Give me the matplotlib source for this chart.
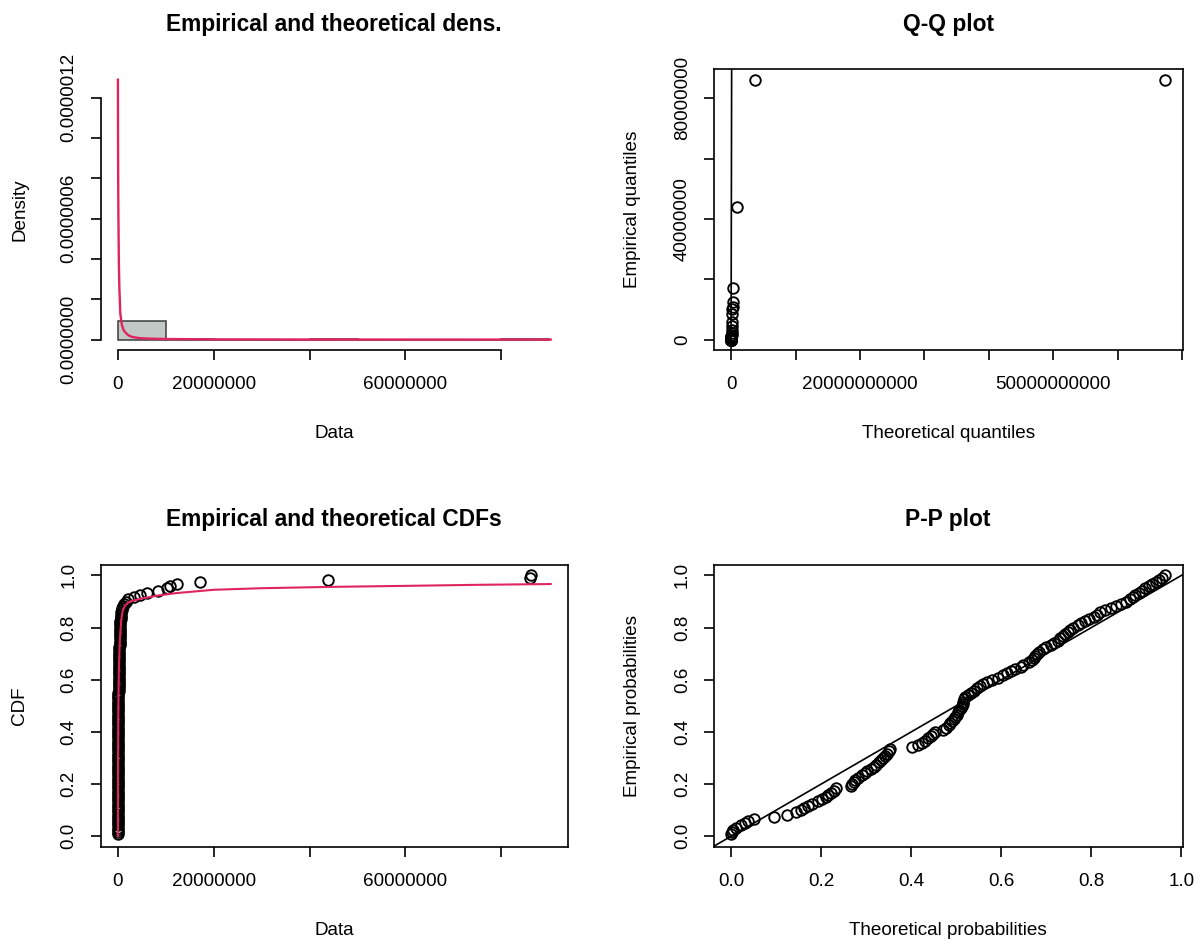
import numpy as np
import matplotlib
matplotlib.use('Agg')
import matplotlib.pyplot as plt

plt.rcParams['font.family'] = ['Liberation Sans', 'DejaVu Sans']

# sorted sample, in millions
data_m = [0.0001, 0.0003, 0.0005, 0.0008, 0.001, 0.0012, 0.0015, 0.002,
          0.004, 0.006, 0.007, 0.008, 0.009, 0.0095, 0.010, 0.012, 0.013, 0.014,
          0.015, 0.016, 0.017, 0.018,
          0.024, 0.025, 0.026, 0.027, 0.028, 0.030, 0.032, 0.033, 0.035, 0.037,
          0.038, 0.040, 0.041, 0.042, 0.043, 0.044, 0.045, 0.046,
          0.058, 0.062, 0.065, 0.068, 0.071, 0.074, 0.077, 0.079, 0.085, 0.088,
          0.091, 0.093, 0.095, 0.097, 0.099, 0.100, 0.102, 0.104, 0.106, 0.108,
          0.109, 0.110, 0.111, 0.112,
          0.115, 0.12, 0.125, 0.13, 0.135, 0.14, 0.148, 0.16, 0.17, 0.18,
          0.19, 0.20, 0.21, 0.23, 0.24, 0.26, 0.27, 0.28, 0.285, 0.29,
          0.30, 0.31, 0.32, 0.335, 0.35, 0.36, 0.37, 0.38, 0.39, 0.40, 0.41, 0.42,
          0.46, 0.49, 0.53, 0.57, 0.62, 0.66, 0.72, 0.80, 0.90, 1.02, 1.2, 1.6,
          2.2, 3.3, 4.6, 6.0, 8.4, 10.2, 10.9, 12.4, 17.2, 43.9, 86.0, 86.2]

# theoretical probabilities of the sample (P-P x values)
theo_p = [0.000, 0.002, 0.005, 0.012, 0.022, 0.030, 0.038, 0.050, 0.095, 0.125,
          0.145, 0.155, 0.163, 0.170, 0.180, 0.193, 0.203, 0.210, 0.215, 0.222,
          0.228, 0.232, 0.266, 0.268, 0.272, 0.275, 0.282, 0.290, 0.297, 0.303,
          0.310, 0.317, 0.322, 0.328, 0.333, 0.338, 0.342, 0.346, 0.350, 0.354,
          0.402, 0.415, 0.423, 0.430, 0.437, 0.443, 0.449, 0.454, 0.470, 0.477,
          0.483, 0.487, 0.491, 0.495, 0.498, 0.501, 0.504, 0.507, 0.510, 0.512,
          0.514, 0.516, 0.518, 0.520, 0.526, 0.533, 0.540, 0.547, 0.553, 0.559,
          0.568, 0.580, 0.592, 0.603, 0.612, 0.622, 0.630, 0.643, 0.648, 0.662,
          0.668, 0.673, 0.676, 0.679, 0.684, 0.692, 0.700, 0.710, 0.718, 0.725,
          0.731, 0.737, 0.742, 0.748, 0.753, 0.760, 0.770, 0.778, 0.787, 0.796,
          0.806, 0.813, 0.820, 0.831, 0.843, 0.855, 0.866, 0.876, 0.885, 0.892,
          0.898, 0.905, 0.912, 0.920, 0.928, 0.935, 0.943, 0.950, 0.957, 0.964]

# theoretical quantiles (Q-Q x values), in millions
theo_q_m = [0.0005, 0.001, 0.002, 0.003, 0.004, 0.005, 0.006, 0.007, 0.008, 0.009,
            0.010, 0.011, 0.012, 0.013, 0.014, 0.015, 0.016, 0.018, 0.019, 0.020,
            0.022, 0.024, 0.025, 0.027, 0.029, 0.031, 0.033, 0.035, 0.037, 0.040,
            0.042, 0.045, 0.047, 0.050, 0.053, 0.056, 0.060, 0.063, 0.067, 0.071,
            0.075, 0.080, 0.085, 0.090, 0.095, 0.10, 0.11, 0.115, 0.12, 0.13,
            0.14, 0.15, 0.16, 0.17, 0.18, 0.19, 0.20, 0.22, 0.23, 0.25,
            0.27, 0.29, 0.31, 0.33, 0.36, 0.39, 0.42, 0.45, 0.49, 0.53,
            0.58, 0.63, 0.68, 0.74, 0.81, 0.88, 0.96, 1.05, 1.15, 1.26,
            1.4, 1.5, 1.7, 1.9, 2.1, 2.3, 2.6, 2.9, 3.3, 3.7,
            4.2, 4.8, 5.5, 6.3, 7.3, 8.5, 10, 12, 14, 17,
            20, 24, 29, 35, 43, 53, 66, 82, 103, 131,
            120, 150, 180, 210, 240, 270, 310, 940, 3690, 67350]

# fitted density curve (x in millions, density in 1e-6)
dens_x_m = [0.003, 0.01, 0.03, 0.06, 0.1, 0.2, 0.3, 0.5, 0.8, 1.2,
            1.7, 2.2, 3.0, 4.6, 7, 10, 20, 40, 60, 90.3]
dens_y_u = [1.29, 1.15, 0.95, 0.78, 0.62, 0.38, 0.26, 0.13, 0.075, 0.046,
            0.032, 0.021, 0.013, 0.007, 0.0045, 0.003, 0.0012, 0.0005, 0.0003, 0.0001]

# fitted CDF curve (x in millions)
cdf_x_m = [0, 0.002, 0.01, 0.03, 0.06, 0.1, 0.2, 0.4, 0.7, 1.0, 1.5, 2.5,
           4.6, 8, 12, 20, 30, 44, 60, 75, 90.3]
cdf_y = [0, 0.05, 0.13, 0.29, 0.41, 0.51, 0.64, 0.75, 0.83, 0.865, 0.885, 0.90,
         0.91, 0.922, 0.932, 0.945, 0.951, 0.956, 0.960, 0.964, 0.967]

data = np.array(data_m) * 1e6
n = len(data)
ecdf_p = np.arange(1, n + 1) / n
theo_q = np.array(theo_q_m) * 1e6
dens_x = np.array(dens_x_m) * 1e6
dens_y = np.array(dens_y_u) * 1e-6
cdf_x = np.array(cdf_x_m) * 1e6

RED = '#e0245e'
FS = 13.6
TFS = 16.4
LW = 1.2


def r_lim(vals):
    lo, hi = float(np.min(vals)), float(np.max(vals))
    pad = 0.04 * (hi - lo)
    return lo - pad, hi + pad


def r_style(ax, title, xlabel, ylabel, xticks, xlabels, yticks, ylabels, box=True):
    for s in ax.spines.values():
        s.set_linewidth(LW)
    if not box:
        ax.spines['top'].set_visible(False)
        ax.spines['right'].set_visible(False)
        ax.spines['bottom'].set_bounds(xticks[0], xticks[-1])
        ax.spines['left'].set_bounds(yticks[0], yticks[-1])
    ax.set_xticks(xticks, xlabels)
    ax.set_yticks(yticks, ylabels)
    ax.tick_params(direction='out', length=7, width=LW, labelsize=FS)
    ax.tick_params(axis='x', pad=12)
    ax.tick_params(axis='y', pad=9.5, labelrotation=90)
    for lab in ax.get_yticklabels():
        lab.set_va('center')
    ax.set_title(title, fontsize=TFS, fontweight='bold', y=1.16, pad=0, va='center')
    ax.set_xlabel(xlabel, fontsize=FS, va='center')
    ax.set_ylabel(ylabel, fontsize=FS, va='center')
    ax.xaxis.set_label_coords(0.5, -0.296)
    ax.yaxis.set_label_coords(-0.173, 0.5)


fig = plt.figure(figsize=(12.01, 9.47), dpi=100)
W, H = 1201, 947
ax1 = fig.add_axes([100.6 / W, 1 - 350 / H, 467.4 / W, 280.7 / H])
ax2 = fig.add_axes([713.7 / W, 1 - 350 / H, 468.8 / W, 280.7 / H])
ax3 = fig.add_axes([100.6 / W, 1 - 846.7 / H, 467.4 / W, 281.7 / H])
ax4 = fig.add_axes([713.7 / W, 1 - 846.7 / H, 468.8 / W, 281.7 / H])

pt = dict(ls='none', marker='o', mfc='none', mec='black', ms=7.6, mew=1.35)

# density
ax1.hist(data, bins=np.arange(0, 1e8, 1e7), density=True, color='#c2c8c6',
         edgecolor='#3c3c3c', linewidth=1.1)
ax1.plot(dens_x, dens_y, color=RED, lw=1.7)
ax1.set_xlim(r_lim([0, dens_x.max()]))
ax1.set_ylim(r_lim([0, dens_y.max()]))
r_style(ax1, 'Empirical and theoretical dens.', 'Data', 'Density',
        [0, 2e7, 4e7, 6e7, 8e7], ['0', '20000000', '', '60000000', ''],
        np.arange(0, 1.3e-6, 2e-7),
        ['0.0000000', '', '', '0.0000006', '', '', '0.0000012'], box=False)

# Q-Q
ax2.plot(theo_q, data, **pt)
ax2.axline((0, 0), slope=1, color='black', lw=LW)
ax2.set_xlim(r_lim(theo_q))
ax2.set_ylim(r_lim(data))
r_style(ax2, 'Q-Q plot', 'Theoretical quantiles', 'Empirical quantiles',
        np.arange(0, 8e10, 1e10), ['0', '', '20000000000', '', '', '50000000000', '', ''],
        np.arange(0, 1e8, 2e7), ['0', '', '40000000', '', '80000000'])

# CDF
ax3.plot(data, ecdf_p, **pt)
ax3.plot(cdf_x, cdf_y, color=RED, lw=1.5)
ax3.set_xlim(r_lim([0, cdf_x.max()]))
ax3.set_ylim(r_lim([0, 1]))
r_style(ax3, 'Empirical and theoretical CDFs', 'Data', 'CDF',
        [0, 2e7, 4e7, 6e7, 8e7], ['0', '20000000', '', '60000000', ''],
        np.arange(0, 1.01, 0.2), ['0.0', '0.2', '0.4', '0.6', '0.8', '1.0'])

# P-P
ax4.plot(theo_p, ecdf_p, **pt)
ax4.axline((0, 0), slope=1, color='black', lw=LW)
ax4.set_xlim(r_lim(theo_p))
ax4.set_ylim(r_lim([0, 1]))
r_style(ax4, 'P-P plot', 'Theoretical probabilities', 'Empirical probabilities',
        np.arange(0, 1.01, 0.2), ['0.0', '0.2', '0.4', '0.6', '0.8', '1.0'],
        np.arange(0, 1.01, 0.2), ['0.0', '0.2', '0.4', '0.6', '0.8', '1.0'])

fig.savefig('out.png', dpi=100)
